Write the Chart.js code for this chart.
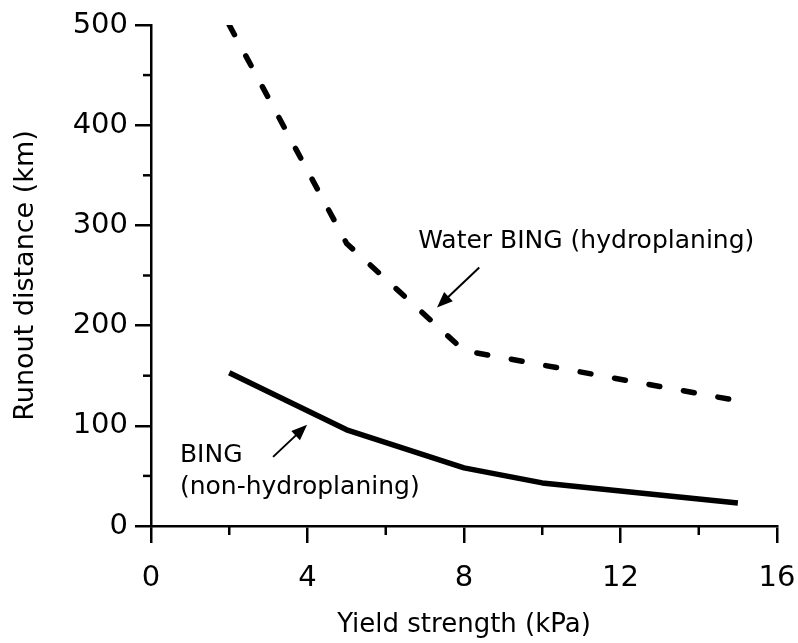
<!DOCTYPE html>
<html>
<head>
<meta charset="utf-8">
<script src="https://cdn.jsdelivr.net/npm/chart.js@4.4.1/dist/chart.umd.min.js"></script>
<style>
  html, body { margin: 0; padding: 0; background: #fff; }
  #wrap { width: 798px; height: 643px; }
</style>
</head>
<body>
<div id="wrap"><canvas id="runoutChart" width="798" height="643"></canvas></div>
<script>
// valeurs
const yieldBing = [2, 5, 8, 10, 15];
const runoutBing = [153, 96, 58, 43, 23];

const yieldWater = [2, 5, 8, 15];
const runoutWater = [500, 282, 175, 125];

const xTicks = [0, 4, 8, 12, 16];
const yTicks = [0, 100, 200, 300, 400, 500];

// annotations (en unités des axes)
const labels = [
    { text: 'Water BING (hydroplaning)', x: 6.83, y: 284 },
    { text: 'BING', x: 0.74, y: 70 },
    { text: '(non-hydroplaning)', x: 0.74, y: 38 }
];
const arrows = [
    { from: [8.39, 258], to: [7.31, 218] },
    { from: [3.12, 69], to: [3.99, 101] }
];

const FONT = '"DejaVu Sans", "Liberation Sans", Arial, sans-serif';

const toPoints = (xs, ys) => xs.map((x, i) => ({ x: x, y: ys[i] }));

// petites graduations + annotations
const extras = {
    id: 'extras',
    afterDraw(chart) {
        const ctx = chart.ctx;
        const xs = chart.scales.x;
        const ys = chart.scales.y;
        ctx.save();
        ctx.strokeStyle = '#000';
        ctx.lineWidth = 2.5;
        // minor ticks
        for (let v = 50; v < 500; v += 100) {
            const py = ys.getPixelForValue(v);
            ctx.beginPath();
            ctx.moveTo(xs.left - 8, py);
            ctx.lineTo(xs.left, py);
            ctx.stroke();
        }
        for (let v = 2; v < 16; v += 4) {
            const px = xs.getPixelForValue(v);
            ctx.beginPath();
            ctx.moveTo(px, ys.bottom);
            ctx.lineTo(px, ys.bottom + 9);
            ctx.stroke();
        }
        // text
        ctx.fillStyle = '#000';
        ctx.font = '25px ' + FONT;
        ctx.textAlign = 'left';
        ctx.textBaseline = 'middle';
        labels.forEach(l => {
            ctx.fillText(l.text, xs.getPixelForValue(l.x), ys.getPixelForValue(l.y));
        });
        // arrows
        ctx.lineWidth = 2;
        arrows.forEach(a => {
            const x1 = xs.getPixelForValue(a.from[0]), y1 = ys.getPixelForValue(a.from[1]);
            const x2 = xs.getPixelForValue(a.to[0]), y2 = ys.getPixelForValue(a.to[1]);
            const ang = Math.atan2(y2 - y1, x2 - x1);
            const head = 17, half = 0.38;
            ctx.beginPath();
            ctx.moveTo(x1, y1);
            ctx.lineTo(x2 - Math.cos(ang) * head * 0.8, y2 - Math.sin(ang) * head * 0.8);
            ctx.stroke();
            ctx.beginPath();
            ctx.moveTo(x2, y2);
            ctx.lineTo(x2 - head * Math.cos(ang - half), y2 - head * Math.sin(ang - half));
            ctx.lineTo(x2 - head * Math.cos(ang + half), y2 - head * Math.sin(ang + half));
            ctx.closePath();
            ctx.fill();
        });
        ctx.restore();
    }
};

new Chart(document.getElementById('runoutChart'), {
    type: 'line',
    data: {
        datasets: [{
            label: 'Water BING (hydroplaning)',
            data: toPoints(yieldWater, runoutWater),
            borderColor: '#000',
            borderWidth: 5.5,
            borderDash: [11, 24],
            borderCapStyle: 'round',
            borderJoinStyle: 'round',
            pointRadius: 0,
            tension: 0
        }, {
            label: 'BING (non-hydroplaning)',
            data: toPoints(yieldBing, runoutBing),
            borderColor: '#000',
            borderWidth: 5.5,
            borderCapStyle: 'butt',
            borderJoinStyle: 'round',
            pointRadius: 0,
            tension: 0
        }]
    },
    options: {
        responsive: false,
        animation: false,
        events: [],
        layout: { padding: { top: 25, right: 21, left: 8, bottom: 2 } },
        plugins: {
            legend: { display: false },
            tooltip: { enabled: false }
        },
        scales: {
            x: {
                type: 'linear',
                min: 0,
                max: 16,
                afterBuildTicks: s => { s.ticks = xTicks.map(v => ({ value: v })); },
                afterFit: s => {
                    s.height = 643 - 526 - 2;
                    s.paddingLeft = 0;
                    s.paddingRight = 0;
                },
                border: { color: '#000', width: 2.5 },
                grid: { drawOnChartArea: false, tickLength: 17, color: '#000', lineWidth: 2.5 },
                ticks: { color: '#000', padding: 18, maxRotation: 0, font: { family: FONT, size: 29 } },
                title: {
                    display: true,
                    text: 'Yield strength (kPa)',
                    color: '#000',
                    font: { family: FONT, size: 26 },
                    padding: { top: 0, bottom: 0 }
                }
            },
            y: {
                type: 'linear',
                min: 0,
                max: 500,
                afterBuildTicks: s => { s.ticks = yTicks.map(v => ({ value: v })); },
                afterFit: s => {
                    s.width = 151 - 8;
                    s.paddingTop = 0;
                    s.paddingBottom = 0;
                },
                border: { color: '#000', width: 2.5 },
                grid: { drawOnChartArea: false, tickLength: 16, color: '#000', lineWidth: 2.5 },
                ticks: { color: '#000', padding: 7, font: { family: FONT, size: 29 } },
                title: {
                    display: true,
                    text: 'Runout distance (km)',
                    color: '#000',
                    font: { family: FONT, size: 27 },
                    padding: { top: 2, bottom: 0 }
                }
            }
        }
    },
    plugins: [extras]
});
</script>
</body>
</html>
